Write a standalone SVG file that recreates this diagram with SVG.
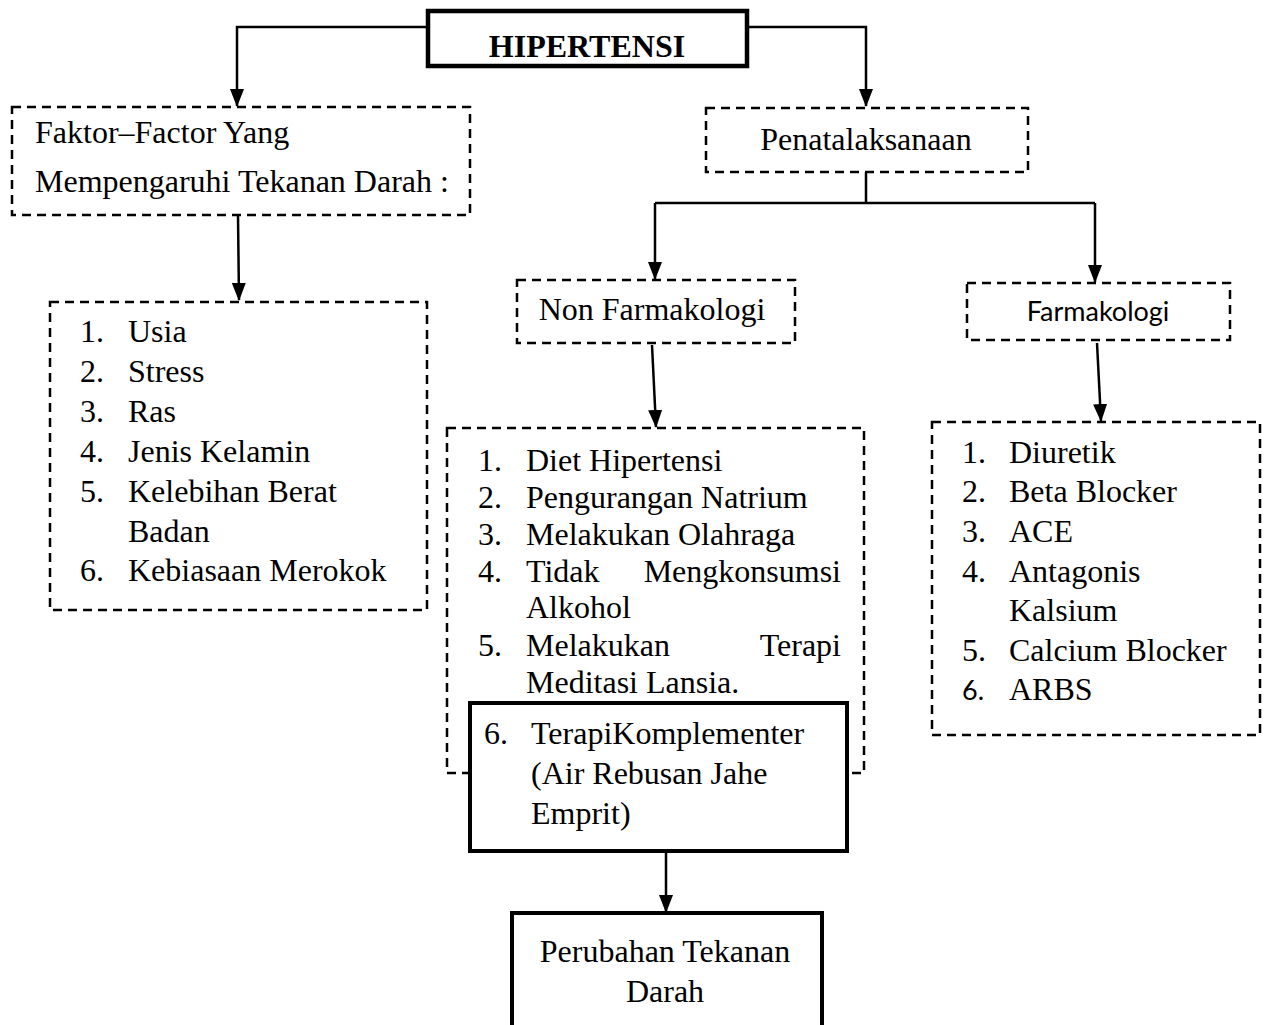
<svg xmlns="http://www.w3.org/2000/svg" width="1270" height="1025" viewBox="0 0 1270 1025">
<style>
.bg{fill:#fff}
.dash{fill:#fff;stroke:#000;stroke-width:2.5;stroke-dasharray:9 6}
.solid{fill:#fff;stroke:#000;stroke-width:4}
.t{font-family:"Liberation Serif","Times New Roman",serif;font-size:32px;fill:#000}
.b{font-weight:bold;font-size:32px}
.s{font-family:Lato,"Liberation Sans",sans-serif;font-size:27px;fill:#000}
.c{text-anchor:middle}
.e{text-anchor:end}
.ln{fill:none;stroke:#000;stroke-width:2.5}
</style>
<defs>
<marker id="ah" viewBox="0 0 18 14" markerWidth="18" markerHeight="14" refX="17" refY="7" orient="auto" markerUnits="userSpaceOnUse">
<path d="M0,0 L18,7 L0,14 z" fill="#000"/>
</marker>
</defs>
<rect class="bg" x="0" y="0" width="1270" height="1025"/>

<g id="connectors">
<path class="ln" d="M428,27 H237 V106" marker-end="url(#ah)"/>
<path class="ln" d="M747,27 H866 V106" marker-end="url(#ah)"/>
<path class="ln" d="M238,216 L239,300" marker-end="url(#ah)"/>
<path class="ln" d="M866,172 V203"/>
<path class="ln" d="M655,203 H1095"/>
<path class="ln" d="M655,203 V279" marker-end="url(#ah)"/>
<path class="ln" d="M1095,203 V282" marker-end="url(#ah)"/>
<path class="ln" d="M652,345 L656,427" marker-end="url(#ah)"/>
<path class="ln" d="M1097,343 L1101,421" marker-end="url(#ah)"/>
<path class="ln" d="M666,853 V912" marker-end="url(#ah)"/>
</g>

<g id="hipertensi">
<rect class="solid" x="428" y="11" width="319" height="55" style="stroke-width:4.5"/>
<text class="t b c" x="587" y="57">HIPERTENSI</text>
</g>

<g id="faktor">
<rect class="dash" x="12" y="107" width="458" height="108"/>
<text class="t" x="35" y="143">Faktor–Factor Yang</text>
<text class="t" x="35" y="192">Mempengaruhi Tekanan Darah :</text>
</g>

<g id="faktor-list">
<rect class="dash" x="50" y="302" width="377" height="308"/>
<text class="t" x="80" y="342">1.</text><text class="t" x="128" y="342">Usia</text>
<text class="t" x="80" y="382">2.</text><text class="t" x="128" y="382">Stress</text>
<text class="t" x="80" y="422">3.</text><text class="t" x="128" y="422">Ras</text>
<text class="t" x="80" y="462">4.</text><text class="t" x="128" y="462">Jenis Kelamin</text>
<text class="t" x="80" y="502">5.</text><text class="t" x="128" y="502">Kelebihan Berat</text>
<text class="t" x="128" y="542">Badan</text>
<text class="t" x="80" y="581">6.</text><text class="t" x="128" y="581">Kebiasaan Merokok</text>
</g>

<g id="penatalaksanaan">
<rect class="dash" x="706" y="108" width="322" height="64"/>
<text class="t c" x="866" y="150">Penatalaksanaan</text>
</g>

<g id="non-farmakologi">
<rect class="dash" x="517" y="280" width="278" height="63"/>
<text class="t c" x="652" y="320">Non Farmakologi</text>
</g>

<g id="farmakologi">
<rect class="dash" x="967" y="283" width="263" height="57"/>
<text class="s c" x="1098" y="321">Farmakologi</text>
</g>

<g id="non-farmakologi-list">
<rect class="dash" x="447" y="428" width="417" height="345"/>
<text class="t" x="478" y="471">1.</text><text class="t" x="526" y="471">Diet Hipertensi</text>
<text class="t" x="478" y="508">2.</text><text class="t" x="526" y="508">Pengurangan Natrium</text>
<text class="t" x="478" y="545">3.</text><text class="t" x="526" y="545">Melakukan Olahraga</text>
<text class="t" x="478" y="582">4.</text><text class="t" x="526" y="582">Tidak</text><text class="t e" x="841" y="582">Mengkonsumsi</text>
<text class="t" x="526" y="618">Alkohol</text>
<text class="t" x="478" y="656">5.</text><text class="t" x="526" y="656">Melakukan</text><text class="t e" x="841" y="656">Terapi</text>
<text class="t" x="526" y="693">Meditasi Lansia.</text>
</g>

<g id="terapi-komplementer">
<rect class="solid" x="470" y="703" width="377" height="148"/>
<text class="t" x="484" y="744">6.</text><text class="t" x="531" y="744">TerapiKomplementer</text>
<text class="t" x="531" y="784">(Air Rebusan Jahe</text>
<text class="t" x="531" y="824">Emprit)</text>
</g>

<g id="farmakologi-list">
<rect class="dash" x="932" y="422" width="328" height="313"/>
<text class="t" x="962" y="463">1.</text><text class="t" x="1009" y="463">Diuretik</text>
<text class="t" x="962" y="502">2.</text><text class="t" x="1009" y="502">Beta Blocker</text>
<text class="t" x="962" y="542">3.</text><text class="t" x="1009" y="542">ACE</text>
<text class="t" x="962" y="582">4.</text><text class="t" x="1009" y="582">Antagonis</text>
<text class="t" x="1009" y="621">Kalsium</text>
<text class="t" x="962" y="661">5.</text><text class="t" x="1009" y="661">Calcium Blocker</text>
<text class="s" x="962" y="700">6.</text><text class="t" x="1009" y="700">ARBS</text>
</g>

<g id="perubahan">
<rect class="solid" x="512" y="913" width="310" height="120"/>
<text class="t c" x="665" y="962">Perubahan Tekanan</text>
<text class="t c" x="665" y="1002">Darah</text>
</g>
</svg>
